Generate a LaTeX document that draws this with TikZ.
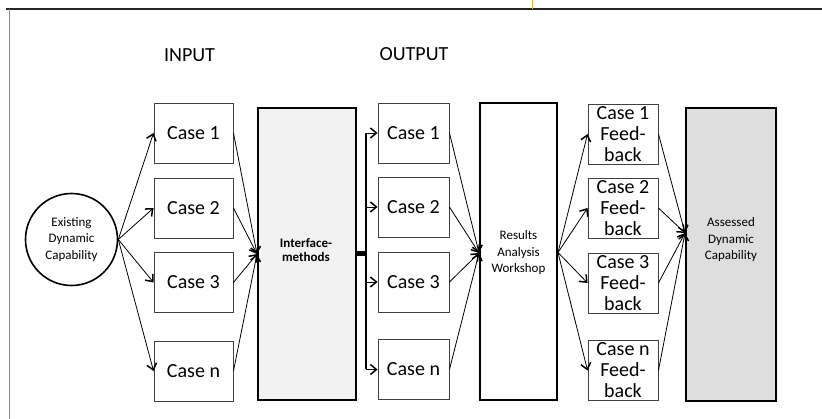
\documentclass[tikz,border=0pt]{standalone}
\usepackage{fontspec}
\setmainfont{Carlito}
\usetikzlibrary{arrows.meta}
\definecolor{framegray}{HTML}{8A8A8A}
\definecolor{frametop}{HTML}{262626}
\definecolor{tabor}{HTML}{F2B233}
\definecolor{lightfill}{HTML}{F2F2F2}
\definecolor{darkfill}{HTML}{DEDEDE}
\definecolor{boxline}{HTML}{404040}
\begin{document}
\begin{tikzpicture}[x=1pt,y=-1pt,
  casebox/.style={draw=boxline, line width=0.9pt, fill=white, inner sep=0pt,
    minimum height=60pt, font=\fontsize{20}{21}\selectfont, align=center},
  bigbox/.style={draw=black, line width=2pt, inner sep=0pt},
  smalltext/.style={inner sep=0pt, font=\fontsize{13}{16.5}\selectfont, align=center},
  headtext/.style={inner sep=0pt, font=\fontsize{20}{22}\selectfont},
  arr/.style={line width=0.8pt, -{Straight Barb[length=6pt,width=10pt,line width=1.5pt]}},
]
\useasboundingbox (0,0) rectangle (822,419);
\fill[white] (0,0) rectangle (822,419);
% frame
\draw[frametop, line width=1.2pt] (6,9) coordinate (ftl) -- (822,9) coordinate (ftr);
\draw[framegray, line width=1.5pt] (9.3,9) coordinate (fl1) -- (9.3,419) coordinate (fl2);
\draw[tabor, line width=1pt] (532,0) coordinate (t1) -- (532,9) coordinate (t2);

% headings
\node[headtext] (inputlbl) at (189.5,55) {INPUT};
\node[headtext] (outputlbl) at (414,54) {OUTPUT};

% existing capability
\node[circle, draw=black, line width=1.6pt, minimum size=92pt, inner sep=0pt,
  font=\fontsize{13}{16.5}\selectfont, align=center] (edc) at (71.5,239.5)
  {Existing\\Dynamic\\Capability};

% input cases
\node[casebox, minimum width=79pt] (in1) at (193.5,133) {Case 1};
\node[casebox, minimum width=79pt] (in2) at (193.5,208) {Case 2};
\node[casebox, minimum width=79pt] (in3) at (193.5,282.5) {Case 3};
\node[casebox, minimum width=79pt] (inn) at (193.5,371) {Case n};

% interface methods
\node[bigbox, fill=lightfill, minimum width=98pt, minimum height=292pt] (ifm) at (307,254) {};
\node[smalltext, font=\fontsize{13}{14.5}\selectfont\bfseries] (ifmtext) at (306,250) {Interface-\\methods};

% output cases
\node[casebox, minimum width=71pt] (out1) at (413.5,133) {Case 1};
\node[casebox, minimum width=71pt] (out2) at (413.5,207) {Case 2};
\node[casebox, minimum width=71pt] (out3) at (413.5,282) {Case 3};
\node[casebox, minimum width=71pt] (outn) at (413.5,369.5) {Case n};

% results workshop
\node[bigbox, fill=white, minimum width=77pt, minimum height=297pt] (res) at (518.5,251.5) {};
\node[smalltext] (restext) at (518.5,253) {Results\\Analysis\\Workshop};

% feedback boxes
\node[casebox, minimum width=70pt] (fb1) at (623,134) {Case 1\\Feed-\\back};
\node[casebox, minimum width=70pt] (fb2) at (623,208) {Case 2\\Feed-\\back};
\node[casebox, minimum width=70pt] (fb3) at (623,283) {Case 3\\Feed-\\back};
\node[casebox, minimum width=70pt] (fbn) at (623,370.5) {Case n\\Feed-\\back};

% assessed capability
\node[bigbox, fill=darkfill, minimum width=90pt, minimum height=293pt] (adc) at (731,254.5) {};
\node[smalltext] (adctext) at (731,240) {Assessed\\Dynamic\\Capability};

% arrows circle -> input cases
\foreach \t in {in1,in2,in3,inn} \draw[arr] (edc.east) -- (\t.west);
% input cases -> interface
\foreach \s in {in1,in2,in3,inn} \draw[arr] (\s.east) -- (ifm.west);

% bus from interface to output cases
\coordinate (bus) at (365.5,254);
\draw[line width=5pt] (ifm.east) -- (bus);
\draw[line width=2pt] (bus |- out1.west) -- (bus |- outn.west);
\foreach \t in {out1,out2,out3,outn} \draw[arr] (bus |- \t.west) -- (\t.west);

% output cases -> results
\foreach \s in {out1,out2,out3,outn} \draw[arr] (\s.east) -- ([yshift=-1.5pt]res.west);
% results -> feedback
\foreach \t in {fb1,fb2,fb3,fbn} \draw[arr] ([yshift=-1pt]res.east) -- (\t.west);
% feedback -> assessed
\foreach \s in {fb1,fb2,fb3,fbn} \draw[arr] (\s.east) -- ([yshift=21.5pt]adc.west);
\end{tikzpicture}
\end{document}
